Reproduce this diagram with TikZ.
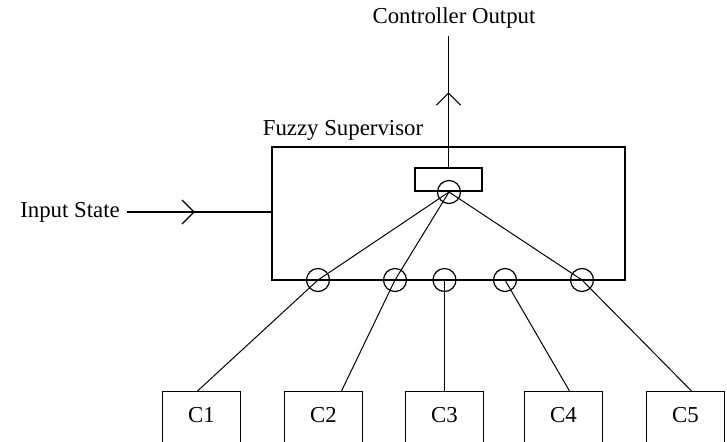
\documentclass[tikz,border=0pt]{standalone}
\usepackage{fontspec}
\setmainfont{Liberation Serif}
\usetikzlibrary{arrows.meta, positioning, calc, decorations.markings}

\begin{document}
\begin{tikzpicture}[x=0.5pt, y=-0.5pt, font=\fontsize{11.4}{13}\selectfont, line width=0.6pt,
  box/.style={draw, rectangle, inner sep=0pt},
  port/.style={draw, circle, inner sep=0pt, minimum size=11.5pt},
  ctrl/.style={draw, rectangle, minimum width=39pt, text height=12.2pt, text depth=30pt,
    inner ysep=3.35pt, anchor=north},
  link/.style={line width=0.5pt},
  midarrow/.style={postaction={decorate}, decoration={markings,
    mark=at position #1 with {\arrow{Straight Barb[length=6pt,width=12pt]}}}}]
  \clip (0,0) rectangle (727,441);
  % ---- supervisor block with its output selector ----
  \node[box, minimum width=176.5pt, minimum height=66.5pt] (sup) at (448.5,213.5) {};
  \node (suplabel) at (343,130) {Fuzzy Supervisor};
  \node[box, minimum width=33.5pt, minimum height=11.5pt] (mux) at (448.5,179.5) {};
  \node[port] (hub) at (449,192) {};
  % output and input
  \node (out) at (454,18) {Controller Output};
  \draw[midarrow=0.57] (mux.north) -- (mux.north |- out.south);
  \node (in) at (70,212) {Input State};
  \draw[midarrow=0.47] (in.east) -- (sup.west |- in.east);
  % ---- ports on the lower edge, controllers below ----
  \foreach \n/\x in {1/318,2/395,3/444.5,4/505,5/582}
    \node[port] (p\n) at (\x,280) {};
  \foreach \n/\x in {1/201.5,2/323.5,3/444.5,4/563.5,5/685.5}
    \node[ctrl] (c\n) at (\x,391) {C\n};
  \draw[link] ([xshift=-2pt]c1.north) -- (p1.center) -- (hub.center);
  \draw[link] ([xshift=9pt]c2.north) -- (p2.center) -- (hub.center);
  \draw[link] (c3.north) -- (p3.center);
  \draw[link] ([xshift=3pt]c4.north) -- (p4.center);
  \draw[link] ([xshift=3pt]c5.north) -- (p5.center) -- (hub.center);
\end{tikzpicture}
\end{document}
